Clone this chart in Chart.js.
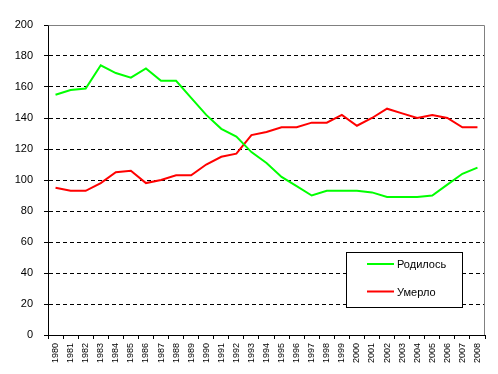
<!DOCTYPE html>
<html>
<head>
<meta charset="utf-8">
<script src="https://cdn.jsdelivr.net/npm/chart.js@4"></script>
<style>
  html, body { margin: 0; padding: 0; background: #fff; }
  #wrap { width: 498px; height: 374px; }
</style>
</head>
<body>
<div id="wrap"><canvas id="demoChart" width="498" height="374"></canvas></div>
<script>
const years = ['1980', '1981', '1982', '1983', '1984', '1985', '1986', '1987', '1988', '1989',
  '1990', '1991', '1992', '1993', '1994', '1995', '1996', '1997', '1998', '1999',
  '2000', '2001', '2002', '2003', '2004', '2005', '2006', '2007', '2008'];
const born = [155, 158, 159, 174, 169, 166, 172, 164, 164, 153, 142, 133, 128, 118, 111,
  102, 96, 90, 93, 93, 93, 92, 89, 89, 89, 90, 97, 104, 108];
const died = [95, 93, 93, 98, 105, 106, 98, 100, 103, 103, 110, 115, 117, 129, 131,
  134, 134, 137, 137, 142, 135, 140, 146, 143, 140, 142, 140, 134, 134];
const seriesNames = ['Родилось', 'Умерло'];
const yMin = 0, yMax = 200, yStep = 20;

const palette = {
  born: '#00ff00',
  died: '#ff0000',
  frame: '#808080',
  ink: '#000000'
};
const fontFamily = "'Liberation Sans', Arial, sans-serif";

// grey plot border on top/right + boxed legend inside the plot
const plotFrame = {
  id: 'plotFrame',
  afterDraw(chart) {
    const { ctx, chartArea: a } = chart;
    ctx.save();
    ctx.strokeStyle = palette.frame;
    ctx.lineWidth = 1;
    ctx.beginPath();
    ctx.moveTo(Math.round(a.left) + 0.5, Math.round(a.top) + 0.5);
    ctx.lineTo(Math.round(a.right) - 0.5, Math.round(a.top) + 0.5);
    ctx.lineTo(Math.round(a.right) - 0.5, Math.round(a.bottom));
    ctx.stroke();

    const box = { x: 346.5, y: 252.5, w: 116, h: 55 };
    ctx.fillStyle = '#fff';
    ctx.fillRect(box.x, box.y, box.w, box.h);
    ctx.strokeStyle = palette.ink;
    ctx.strokeRect(box.x, box.y, box.w, box.h);
    ctx.font = '11px ' + fontFamily;
    ctx.textBaseline = 'middle';
    chart.data.datasets.forEach((ds, i) => {
      const y = 264 + i * 27.5;
      ctx.strokeStyle = ds.borderColor;
      ctx.lineWidth = 2;
      ctx.beginPath();
      ctx.moveTo(367, y);
      ctx.lineTo(394, y);
      ctx.stroke();
      ctx.fillStyle = palette.ink;
      ctx.fillText(ds.label, 397, y + 1);
    });
    ctx.restore();
  }
};

new Chart(document.getElementById('demoChart'), {
  type: 'line',
  data: {
    labels: years,
    datasets: [
      {
        label: seriesNames[0],
        data: born,
        borderColor: palette.born,
        borderWidth: 2,
        pointRadius: 0,
        tension: 0
      },
      {
        label: seriesNames[1],
        data: died,
        borderColor: palette.died,
        borderWidth: 2,
        pointRadius: 0,
        tension: 0
      }
    ]
  },
  options: {
    responsive: false,
    animation: false,
    layout: { padding: { left: 0, right: 13, top: 25, bottom: 0 } },
    plugins: {
      legend: { display: false },
      tooltip: { enabled: false }
    },
    scales: {
      x: {
        offset: true,
        grid: {
          offset: true,
          drawOnChartArea: false,
          drawTicks: true,
          tickLength: 4,
          tickColor: palette.ink
        },
        border: { display: true, color: palette.ink, width: 1 },
        ticks: {
          autoSkip: false,
          minRotation: 90,
          maxRotation: 90,
          padding: 4,
          color: palette.ink,
          font: { family: fontFamily, size: 9 }
        },
        afterFit: (scale) => { scale.height = 39; }
      },
      y: {
        min: yMin,
        max: yMax,
        grid: {
          color: (c) => (c.tick && (c.tick.value === yMax || c.tick.value === yMin)) ? 'rgba(0,0,0,0)' : palette.ink,
          lineWidth: 1,
          tickLength: 4,
          tickColor: palette.ink
        },
        border: { display: true, color: palette.ink, width: 1, dash: [4, 3] },
        ticks: {
          stepSize: yStep,
          padding: 11,
          color: palette.ink,
          font: { family: fontFamily, size: 11 }
        },
        afterFit: (scale) => { scale.width = 48; }
      }
    }
  },
  plugins: [plotFrame]
});
</script>
</body>
</html>
